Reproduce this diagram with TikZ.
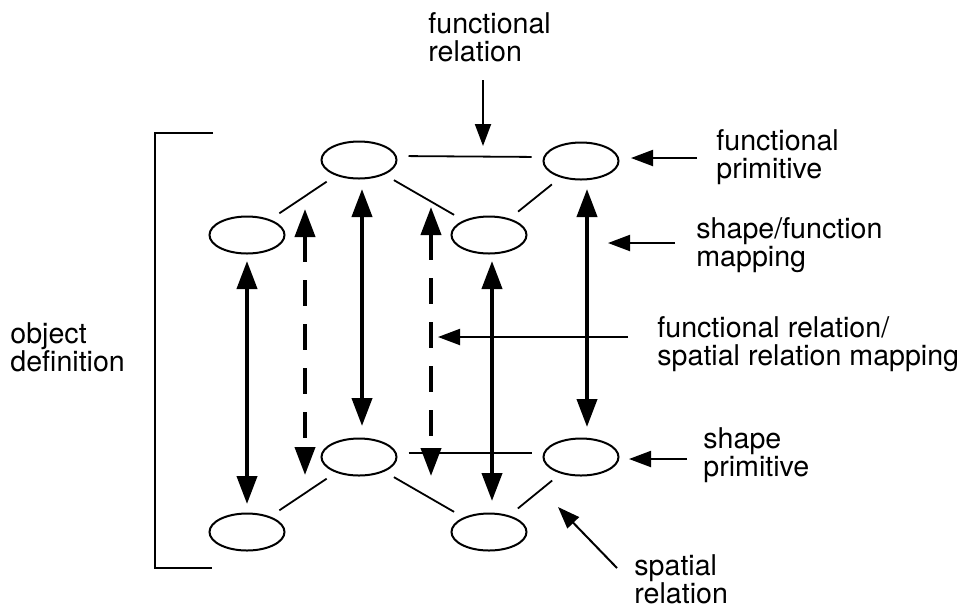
\documentclass[tikz,border=0pt]{standalone}
\usepackage{fontspec}
\setmainfont{TeX Gyre Heros}
\usetikzlibrary{shapes.geometric,arrows.meta}

\begin{document}
\begin{tikzpicture}[x=0.5pt,y=-0.5pt]
  \useasboundingbox (0,0) rectangle (964,607);

  \tikzset{prim/.style={draw, ellipse, line width=1pt, minimum width=37.5pt, minimum height=18.5pt, inner sep=0pt},
    link/.style={line width=0.9pt, shorten <=5.5pt, shorten >=5.5pt},
    map/.style={line width=2pt, {Triangle[length=14pt,width=10pt]}-{Triangle[length=14pt,width=10pt]}},
    dmap/.style={map, dash pattern=on 13pt off 9pt},
    lbl/.style={font=\fontsize{14.3}{14.3}\selectfont, align=left, inner sep=0pt, anchor=base west},
    pointer/.style={line width=1pt, -{Triangle[length=11pt,width=8pt]}}}

% functional primitives
\node[prim] (f1) at (359,160) {};
\node[prim] (f2) at (581,161) {};
\node[prim] (f3) at (247,235) {};
\node[prim] (f4) at (489,235) {};

% shape primitives
\node[prim] (s1) at (359,457) {};
\node[prim] (s2) at (581,457) {};
\node[prim] (s3) at (247,532) {};
\node[prim] (s4) at (489,532) {};

\draw[link] ([yshift=2pt]f1.east) -- ([yshift=2pt]f2.west);
\draw[link] (f1) -- (f3);
\draw[link] (f1) -- (f4);
\draw[link] (f2) -- (f4);

\draw[link] ([yshift=2pt]s1.east) -- ([yshift=2pt]s2.west);
\draw[link] (s1) -- (s3);
\draw[link] (s1) -- (s4);
\draw[link] (s2) -- (s4);

% shape/function mappings
\draw[map, shorten <=3.25pt, shorten >=4.25pt] (f3) -- (s3);
\draw[map, shorten <=4.75pt, shorten >=5.75pt] ([xshift=1.5pt]f1.south) -- ([xshift=1.5pt]s1.north);
\draw[map, shorten <=3.25pt, shorten >=5.75pt] ([xshift=1.5pt]f4.south) -- ([xshift=1.5pt]s4.north);
\draw[map, shorten <=4.25pt, shorten >=5.25pt] ([xshift=3pt]f2.south) -- ([xshift=3pt]s2.north);

% relation mappings
\coordinate (r1t) at (305,209);
\coordinate (r1b) at (305,475);
\coordinate (r2t) at (431,207);
\coordinate (r2b) at (431,476);
\draw[dmap] (r1t) -- (r1b);
\draw[dmap] (r2t) -- (r2b);

% bracket
\draw[line width=1pt] (213,133) -- (155,133) -- (155,568) -- (212,568);

% labels (placed at the baseline of the last line)
\node[lbl] (frl) at (428,61.6) {functional\\relation};
\node[lbl] (fpl) at (716,178.6) {functional\\primitive};
\node[lbl] (sfl) at (696,266.6) {shape/function\\mapping};
\node[lbl] (rml) at (657,365.6) {functional relation/\\spatial relation mapping};
\node[lbl] (spl) at (703,476.6) {shape\\primitive};
\node[lbl] (srl) at (634,603.6) {spatial\\relation};
\node[lbl] (odl) at (10,371.6) {object\\definition};

\coordinate (frtip) at (483,146);
\coordinate (fptip) at (631,158);
\coordinate (sftip) at (608,243);
\coordinate (rmtip) at (438,337);
\coordinate (sptip) at (629,459);
\coordinate (srtip) at (558,507);
\coordinate (srtail) at ([xshift=-8.5pt,yshift=17.8pt]srl.base west);

\draw[pointer, shorten <=9pt] (frtip |- frl.south) -- (frtip);
\draw[pointer, shorten <=9.5pt] (fpl.west |- fptip) -- (fptip);
\draw[pointer, shorten <=10.5pt] (sfl.west |- sftip) -- (sftip);
\draw[pointer, shorten <=14.5pt] (rml.west |- rmtip) -- (rmtip);
\draw[pointer, shorten <=8pt] (spl.west |- sptip) -- (sptip);
\draw[pointer] (srtail) -- (srtip);

\end{tikzpicture}
\end{document}
